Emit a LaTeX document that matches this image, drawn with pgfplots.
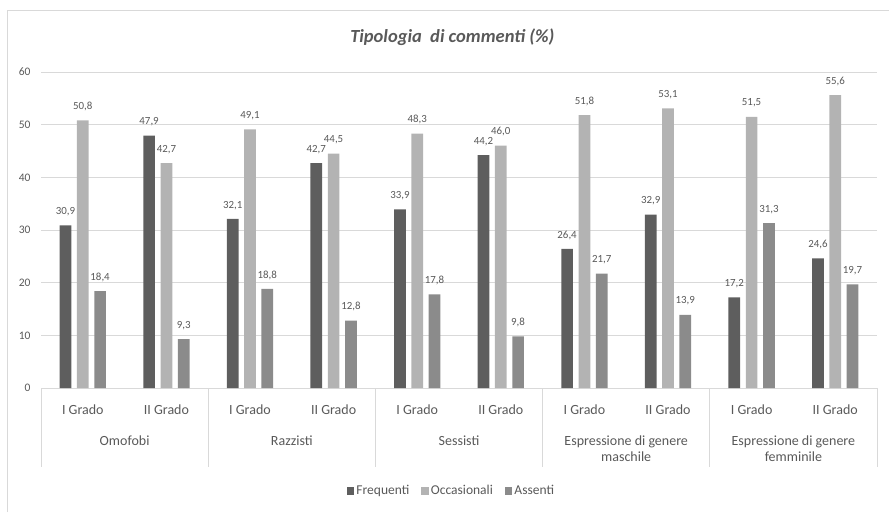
\documentclass[border=0pt]{standalone}
\usepackage{pgfplots}
\pgfplotsset{compat=1.18}
\usepackage{pgfplotstable}
\usepackage{fontspec}
\setmainfont{Carlito}
\definecolor{cFreq}{HTML}{5E5E5E}
\definecolor{cOcc}{HTML}{B3B3B3}
\definecolor{cAss}{HTML}{8B8B8B}
\definecolor{cGrid}{HTML}{D9D9D9}
\definecolor{cText}{HTML}{595959}

\pgfplotstableread{
x F O A
0 30.9 50.8 18.4
1 47.9 42.7 9.3
2 32.1 49.1 18.8
3 42.7 44.5 12.8
4 33.9 48.3 17.8
5 44.2 46.0 9.8
6 26.4 51.8 21.7
7 32.9 53.1 13.9
8 17.2 51.5 31.3
9 24.6 55.6 19.7
}\data

\begin{document}
\begin{tikzpicture}
\useasboundingbox (-41pt,-124pt) rectangle (848pt,388pt);
% chart frame (right and bottom sides fall outside)
\draw[cGrid, line width=0.8pt] (-34pt,-124pt) -- (-34pt,377.5pt) -- (848pt,377.5pt);
\begin{axis}[
    scale only axis,
    width=836pt, height=316pt,
    ybar=5.6pt, bar width=11.7pt,
    xmin=-0.5, xmax=9.5,
    ymin=0, ymax=60,
    ytick={0,10,...,60},
    xtick=data,
    xticklabels={I Grado,II Grado,I Grado,II Grado,I Grado,II Grado,I Grado,II Grado,I Grado,II Grado},
    major tick length=0pt,
    axis line style={draw=none},
    ymajorgrids, grid style={cGrid, line width=0.8pt},
    clip=false,
    /pgf/number format/assume math mode=true,
    yticklabel style={font=\fontsize{11.5}{13}\selectfont, text=cText, xshift=-7pt},
    xticklabel style={font=\fontsize{14}{16}\selectfont, text=cText, anchor=base, yshift=-26pt},
    nodes near coords={\pgfmathprintnumber[fixed,fixed zerofill,precision=1,use comma]{\pgfplotspointmeta}},
    every node near coord/.append style={font=\fontsize{10.9}{12}\selectfont, text=cText, yshift=6pt},
    title={\bfseries\itshape Tipologia~~di commenti (\%)},
    title style={font=\fontsize{18.5}{20}\selectfont, text=cText, at={(rel axis cs:0.492,1.091)}, anchor=center},
    legend style={at={(rel axis cs:0.491,-0.325)}, anchor=center, draw=none,
        font=\fontsize{13.5}{15}\selectfont, text=cText, legend columns=-1,
        /tikz/every even column/.append style={column sep=10pt}},
    legend image code/.code={\fill[#1] (0pt,-3.8pt) rectangle (7.6pt,3.8pt);},
]
\addplot[fill=cFreq, draw=none] table[x=x, y=F] {\data};
\addplot[fill=cOcc, draw=none] table[x=x, y=O] {\data};
\addplot[fill=cAss, draw=none] table[x=x, y=A] {\data};
\legend{Frequenti, Occasionali, Assenti}
% group separators and group names
\foreach \s in {-0.5,1.5,3.5,5.5,7.5,9.5}{
  \edef\tmp{\noexpand\draw[cGrid, line width=0.8pt] (axis cs:\s,0) -- ([yshift=-79pt]axis cs:\s,0);}\tmp
}
\begin{scope}[every node/.style={font=\fontsize{14}{16.3}\selectfont, text=cText, align=center, anchor=base}]
\node at ([yshift=-57pt]axis cs:0.5,0) {Omofobi};
\node at ([yshift=-57pt]axis cs:2.5,0) {Razzisti};
\node at ([yshift=-57pt]axis cs:4.5,0) {Sessisti};
\node at ([yshift=-57pt]axis cs:6.5,0) {Espressione di genere};
\node at ([yshift=-73.3pt]axis cs:6.5,0) {maschile};
\node at ([yshift=-57pt]axis cs:8.5,0) {Espressione di genere};
\node at ([yshift=-73.3pt]axis cs:8.5,0) {femminile};
\end{scope}
\end{axis}
\end{tikzpicture}
\end{document}
